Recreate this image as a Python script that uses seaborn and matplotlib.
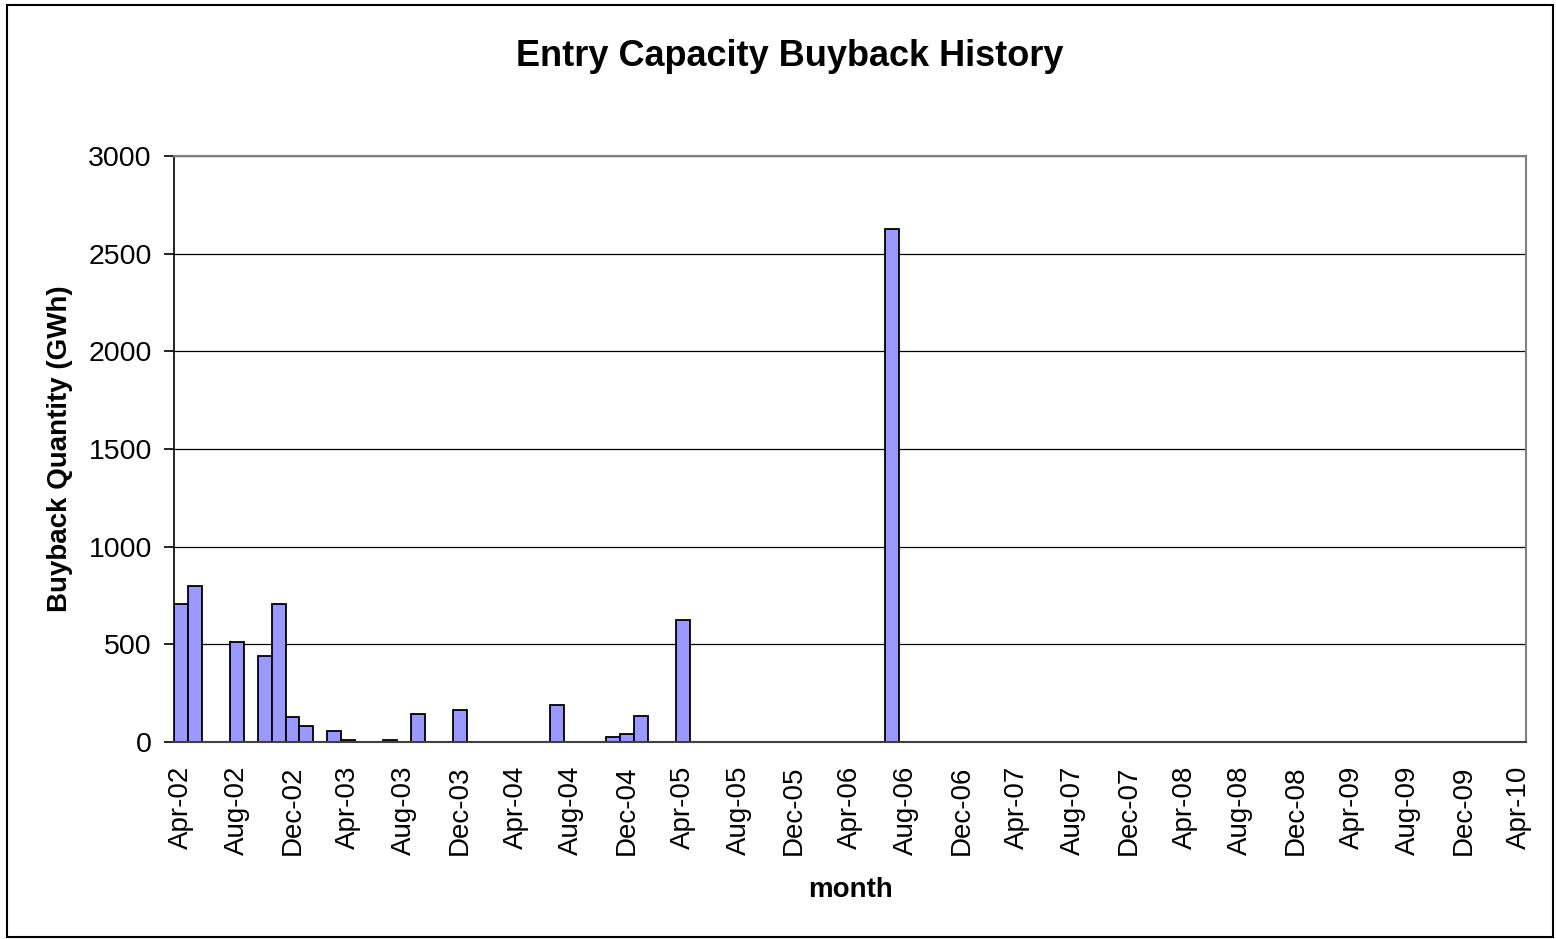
import numpy as np
import pandas as pd
import matplotlib
matplotlib.use("Agg")
import matplotlib.pyplot as plt
import matplotlib.patches as mpatches
import seaborn as sns

# ---- data ----
months = list(pd.date_range("2002-04-01", periods=97, freq="MS").strftime("%b-%y"))
nan = np.nan
values = [
    707, 800, nan, nan, 512, nan, 440, 707, 130, 84, nan, 58,      # Apr-02 .. Mar-03
    12, nan, nan, 10, nan, 143, nan, nan, 164, nan, nan, nan,       # Apr-03 .. Mar-04
    nan, nan, nan, 189, nan, nan, nan, 26, 39, 131, nan, nan,       # Apr-04 .. Mar-05
    625, nan, nan, nan, nan, nan, nan, nan, nan, nan, nan, nan,     # Apr-05 .. Mar-06
    nan, nan, nan, 2627, nan, nan, nan, nan, nan, nan, nan, nan,    # Apr-06 .. Mar-07
    nan, nan, nan, nan, nan, nan, nan, nan, nan, nan, nan, nan,     # Apr-07 .. Mar-08
    nan, nan, nan, nan, nan, nan, nan, nan, nan, nan, nan, nan,     # Apr-08 .. Mar-09
    nan, nan, nan, nan, nan, nan, nan, nan, nan, nan, nan, nan,     # Apr-09 .. Mar-10
    nan,                                                            # Apr-10
]
y_ticks = [0, 500, 1000, 1500, 2000, 2500, 3000]
title = "Entry Capacity Buyback History"
xlabel = "month"
ylabel = "Buyback Quantity (GWh)"

df = pd.DataFrame({"month": months, "value": values})

# ---- figure ----
sns.set_style("white")
plt.rcParams["font.family"] = ["Liberation Sans", "DejaVu Sans"]
plt.rcParams["text.color"] = "black"
plt.rcParams["axes.labelcolor"] = "black"
plt.rcParams["xtick.color"] = "black"
plt.rcParams["ytick.color"] = "black"

W, H = 1556, 939
fig = plt.figure(figsize=(W / 100, H / 100), dpi=100)
fig.patch.set_facecolor("white")
L, R, T, B = 174, 1526, 156, 742
ax = fig.add_axes([L / W, 1 - B / H, (R - L) / W, (B - T) / H])

sns.barplot(data=df, x="month", y="value", order=months, ax=ax,
            color="#9999FF", saturation=1, edgecolor="black", linewidth=1.3,
            width=1.0, errorbar=None)

ax.set_xlim(-0.5, len(months) - 0.5)
ax.set_ylim(0, 3000)
ax.set_yticks(y_ticks)
ax.set_yticklabels([str(v) for v in y_ticks], fontsize=20.5)
ax.yaxis.grid(True, color="black", linewidth=0.9)
ax.set_axisbelow(True)

# labels centred on categories, tick marks at category boundaries
label_pos = list(range(0, len(months), 4))
ax.set_xticks(label_pos)
ax.set_xticklabels([months[i] for i in label_pos], rotation=90, fontsize=20)
ax.tick_params(axis="x", which="major", length=0, pad=17)
ax.set_xticks([i - 0.5 for i in label_pos], minor=True)
ax.tick_params(axis="x", which="minor", length=8, width=1.2, color="black", direction="out")
ax.tick_params(axis="y", which="major", length=7, width=1.2, color="black", direction="out", pad=9, left=True)

for side in ["top", "right"]:
    ax.spines[side].set_color("#808080")
    ax.spines[side].set_linewidth(1.5)
ax.spines["left"].set_color("black")
ax.spines["left"].set_linewidth(1.2)
ax.spines["bottom"].set_color("#404040")
ax.spines["bottom"].set_linewidth(1.5)

ax.set_xlabel(xlabel, fontsize=20, fontweight="bold", labelpad=16)
ax.set_ylabel(ylabel, fontsize=20, fontweight="bold", labelpad=11)
fig.text(790 / W, 1 - 57 / H, title, ha="center", va="center",
         fontsize=26, fontweight="bold", color="black")

# outer chart border
fig.patches.append(mpatches.Rectangle((7 / W, 1 - 937 / H), (1553 - 7) / W, (937 - 5) / H,
                                      transform=fig.transFigure, fill=False,
                                      edgecolor="black", linewidth=1.5))

fig.savefig("out.png", dpi=100)
